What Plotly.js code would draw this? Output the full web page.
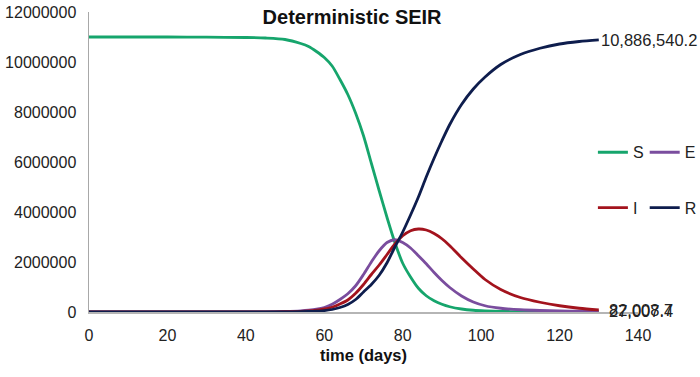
<!DOCTYPE html>
<html>
<head>
<meta charset="utf-8">
<script src="https://cdn.plot.ly/plotly-3.0.1.min.js"></script>
<style>html,body{margin:0;padding:0;background:#fff;}#chart{width:700px;height:377px;}</style>
</head>
<body>
<div id="chart"></div>
<script>
const days = [0,10,20,30,40,45,50,54,56,58,60,62,64,66,68,70,72,74,76,78,80,82,84,86,88,90,92,95,98,101,105,110,115,120,125,130];
const S = [11000000,11000000,10999000,10993000,10980000,10960000,10900000,10740000,10620000,10420000,10180000,9840000,9300000,8700000,7950000,7050000,5950000,4850000,3780000,2780000,1950000,1400000,950000,650000,450000,310000,210000,120000,70000,45000,25000,15000,10000,8000,6000,5000];
const E = [0,200,600,1300,2800,5000,20000,45000,70000,110000,180000,310000,500000,730000,1050000,1500000,2000000,2450000,2780000,2890000,2780000,2560000,2250000,1930000,1580000,1260000,980000,640000,400000,250000,150000,90000,60000,45000,34000,27007.4];
const I = [0,100,400,900,2000,4000,10000,25000,40000,70000,120000,190000,320000,480000,750000,1100000,1500000,1880000,2300000,2720000,3050000,3250000,3320000,3280000,3140000,2930000,2650000,2170000,1720000,1300000,900000,580000,390000,250000,150000,82008.7];
const R = [0,50,200,500,1000,2000,5000,12000,20000,35000,55000,100000,180000,300000,500000,800000,1100000,1470000,1970000,2600000,3200000,3880000,4600000,5400000,6150000,6850000,7500000,8300000,8920000,9400000,9900000,10300000,10550000,10720000,10820000,10886540.2];
const names = ['S','E','I','R'];
const colors = ['#16a56c','#7a4d9e','#a3131d','#0e1d4d'];
const series = [S,E,I,R];
const xTicks = [0,20,40,60,80,100,120,140];
const yTicks = [0,2000000,4000000,6000000,8000000,10000000,12000000];
const labelled = [1,2,3]; // E, I, R end labels

const fontFam = '"Liberation Sans", Arial, sans-serif';
const legendIds = ['legend','legend2','legend3','legend4'];
const traces = series.map((v,i)=>({
  x: days, y: v, name: names[i], type:'scatter', mode:'lines',
  line:{color:colors[i], width:2.8, shape:'spline', smoothing:0.8},
  legend: legendIds[i]
}));

function fmt(n){
  return n.toLocaleString('en-US',{minimumFractionDigits:1, maximumFractionDigits:1});
}
const annotations = labelled.map(i=>({
  x: days[days.length-1], y: series[i][series[i].length-1], xref:'x', yref:'y',
  text: fmt(series[i][series[i].length-1]), showarrow:false, xanchor:'left', yanchor:'middle',
  xshift: (i===3 ? 0 : 8), font:{family:fontFam, size:16.5, color:'#222'}
}));

const legendBase = {orientation:'v', xref:'container', yref:'container', xanchor:'left', yanchor:'top',
  font:{family:fontFam, size:16, color:'#222'}, bgcolor:'rgba(0,0,0,0)', itemwidth:30, borderwidth:0};
const legX = [0.847, 0.921, 0.847, 0.921];
const legY = [0.641, 0.641, 0.494, 0.494];

const layout = {
  width:700, height:377,
  paper_bgcolor:'#fff', plot_bgcolor:'#fff',
  margin:{l:89, r:62, t:12, b:65, autoexpand:false},
  font:{family:fontFam, size:16, color:'#222'},
  title:{text:'<b>Deterministic SEIR</b>', font:{family:fontFam, size:20, color:'#111'}, xref:'container', x:0.503, yref:'container', y:0.955, yanchor:'middle', xanchor:'center'},
  xaxis:{range:[0,140], tickvals:xTicks, ticktext:xTicks.map(String), showgrid:false, zeroline:false,
    showline:true, linecolor:'#b5b5b5', linewidth:2, ticks:'outside', ticklen:8, tickcolor:'rgba(0,0,0,0)',
    tickfont:{family:fontFam, size:16, color:'#222'},
    title:{text:'<b>time (days)</b>', font:{family:fontFam, size:16.5, color:'#111'}, standoff:6}},
  yaxis:{range:[0,12000000], tickvals:yTicks, ticktext:yTicks.map(String), showgrid:false, zeroline:false,
    showline:true, linecolor:'#a8a8a8', linewidth:1.5, ticks:'outside', ticklen:8, tickcolor:'rgba(0,0,0,0)',
    tickfont:{family:fontFam, size:16, color:'#222'}},
  showlegend:true,
  annotations: annotations
};
legendIds.forEach((id,i)=>{ layout[id] = Object.assign({}, legendBase, {x:legX[i], y:legY[i]}); });
Plotly.newPlot('chart', traces, layout, {staticPlot:true, displayModeBar:false});
</script>
</body>
</html>
